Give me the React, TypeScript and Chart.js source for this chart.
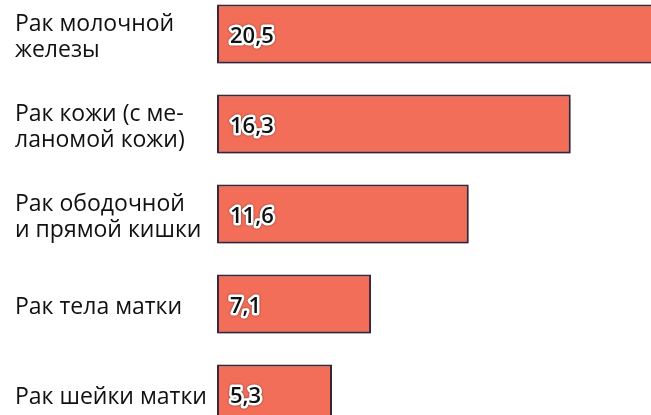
import React, { useEffect, useRef } from "react";
import { Chart, registerables } from "chart.js";

Chart.register(...registerables);

const categories: string[][] = [
  ["Рак молочной", "железы"],
  ["Рак кожи (с ме-", "ланомой кожи)"],
  ["Рак ободочной", "и прямой кишки"],
  ["Рак тела матки"],
  ["Рак шейки матки"],
];
const values: number[] = [20.5, 16.3, 11.6, 7.1, 5.3];
const valueLabels: string[] = ["20,5", "16,3", "11,6", "7,1", "5,3"];

const FONT = "'Open Sans', 'Noto Sans', sans-serif";

export default function App() {
  const ref = useRef<HTMLCanvasElement | null>(null);
  useEffect(() => {
    if (!ref.current) return;
    const labelPlugin = {
      id: "valueLabels",
      beforeDatasetsDraw(chart: any) {
        const ctx = chart.ctx;
        ctx.save();
        ctx.shadowColor = "rgba(40,20,40,0.45)";
        ctx.shadowBlur = 4;
        ctx.shadowOffsetX = 1;
        ctx.shadowOffsetY = 2;
      },
      afterDatasetsDraw(chart: any) {
        const ctx = chart.ctx;
        ctx.restore();
        const meta = chart.getDatasetMeta(0);
        ctx.save();
        ctx.font = `600 22px ${FONT}`;
        ctx.textAlign = "left";
        ctx.textBaseline = "middle";
        ctx.lineJoin = "round";
        meta.data.forEach((bar: any, i: number) => {
          const x = bar.base + 13;
          const y = bar.y + 3;
          ctx.save();
          ctx.shadowColor = "rgba(0,0,0,0.6)";
          ctx.shadowBlur = 2;
          ctx.lineWidth = 5;
          ctx.strokeStyle = "#ffffff";
          ctx.strokeText(valueLabels[i], x, y);
          ctx.restore();
          ctx.fillStyle = "#111111";
          ctx.fillText(valueLabels[i], x, y);
        });
        ctx.restore();
      },
    };
    const chart = new Chart(ref.current, {
      type: "bar",
      data: {
        labels: categories,
        datasets: [
          {
            data: values,
            backgroundColor: "#F26E59",
            borderColor: "#3e2a3c",
            borderWidth: 2,
            borderSkipped: false,
            categoryPercentage: 1,
            barPercentage: 0.655,
          },
        ],
      },
      options: {
        indexAxis: "y",
        responsive: false,
        animation: false,
        devicePixelRatio: 1,
        layout: { padding: { left: 15, top: 0, right: 0, bottom: 0 } },
        plugins: { legend: { display: false }, tooltip: { enabled: false } },
        scales: {
          x: { display: false, min: 0, max: 22.26 },
          y: {
            grid: { display: false },
            border: { display: false },
            afterFit(scale: any) {
              scale.width = 202;
              scale.paddingTop = 0;
              scale.paddingBottom = 0;
            },
            ticks: {
              crossAlign: "far",
              padding: 0,
              labelOffset: 3,
              color: "#111111",
              font: { family: FONT, size: 23, lineHeight: 1.13 },
            },
          },
        },
      },
      plugins: [labelPlugin],
    });
    return () => chart.destroy();
  }, []);
  return (
    <div style={{ position: "fixed", left: 0, top: -11, width: 700, height: 450, background: "#fff" }}>
      <canvas ref={ref} width={700} height={450} style={{ width: 700, height: 450 }} />
    </div>
  );
}
